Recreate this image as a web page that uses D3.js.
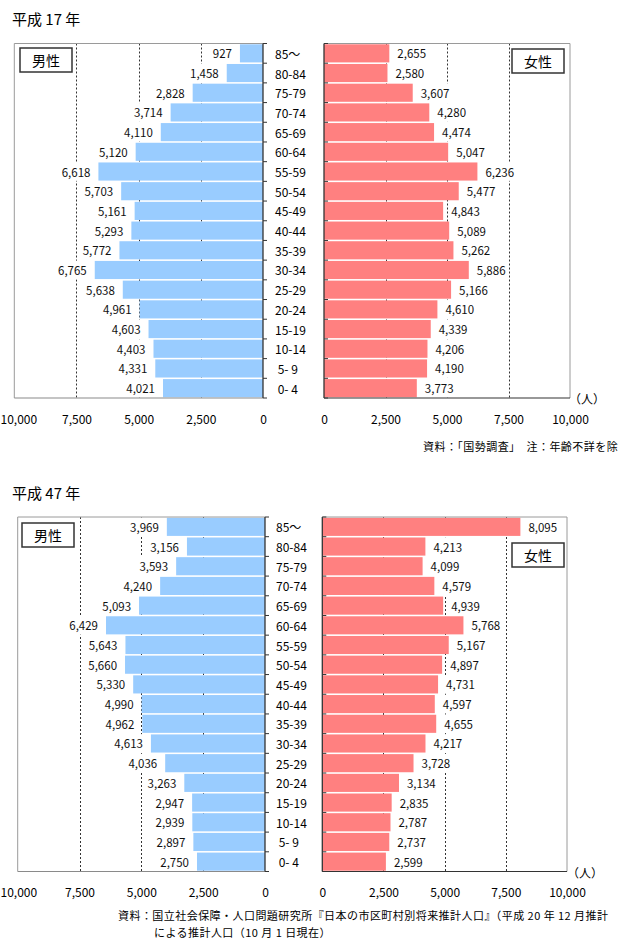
<!DOCTYPE html>
<html>
<head>
<meta charset="utf-8">
<script src="https://cdn.jsdelivr.net/npm/d3@7"></script>
<style>
  html, body { margin: 0; padding: 0; background: #ffffff; }
  svg { display: block; font-family: "Noto Sans CJK JP", "Noto Sans", sans-serif; }
  text { white-space: pre; }
</style>
</head>
<body>
<script>
// ---------------- data ----------------
const ageGroups = ["85～","80-84","75-79","70-74","65-69","60-64","55-59","50-54","45-49",
                   "40-44","35-39","30-34","25-29","20-24","15-19","10-14"," 5- 9"," 0- 4"];
const male2005   = [927,1458,2828,3714,4110,5120,6618,5703,5161,5293,5772,6765,5638,4961,4603,4403,4331,4021];
const female2005 = [2655,2580,3607,4280,4474,5047,6236,5477,4843,5089,5262,5886,5166,4610,4339,4206,4190,3773];
const male2035   = [3969,3156,3593,4240,5093,6429,5643,5660,5330,4990,4962,4613,4036,3263,2947,2939,2897,2750];
const female2035 = [8095,4213,4099,4579,4939,5768,5167,4897,4731,4597,4655,4217,3728,3134,2835,2787,2737,2599];
const xTicks = [0, 2500, 5000, 7500, 10000];
const gridValues = [2500, 5000, 7500];
const titles = ["平成 17 年", "平成 47 年"];
const maleLabel = "男性", femaleLabel = "女性", unitLabel = "（人）";
const notes2005 = ["資料：「国勢調査」　注：年齢不詳を除"];
const notes2035 = ["資料：国立社会保障・人口問題研究所『日本の市区町村別将来推計人口』（平成 20 年 12 月推計",
                   "による推計人口（10 月 1 日現在）"];

// ---------------- layout ----------------
const W = 626, H = 945;
const MALE_COLOR = "#99CCFF", FEMALE_COLOR = "#FF8080";

const panels = [
  { title: titles[0], titleY: 25, male: male2005, female: female2005,
    mLeft: 14.3, mZero: 263, fZero: 324, fRight: 570, top: 43.5, bottom: 398,
    ageX: 275, axisLabelGap: 17, unitX: 569, unitY: 398,
    notes: notes2005, noteX: [423], noteY: [446],
    maleBox: {x: 20, y: 48, w: 52, h: 24}, femaleBox: {x: 512, y: 49, w: 52, h: 24} },
  { title: titles[1], titleY: 499, male: male2035, female: female2035,
    mLeft: 17.7, mZero: 265, fZero: 322.3, fRight: 567, top: 517, bottom: 871.5,
    ageX: 276, axisLabelGap: 17, unitX: 567, unitY: 872,
    notes: notes2035, noteX: [118, 154], noteY: [915, 931.5],
    maleBox: {x: 22, y: 523, w: 52, h: 24}, femaleBox: {x: 512, y: 543, w: 52, h: 24} }
];

const svg = d3.select("body").append("svg").attr("width", W).attr("height", H);
const fmt = d3.format(",");

panels.forEach(p => {
  const g = svg.append("g");
  const xm = d3.scaleLinear().domain([0, 10000]).range([p.mZero, p.mLeft]);
  const xf = d3.scaleLinear().domain([0, 10000]).range([p.fZero, p.fRight]);
  const y = d3.scaleBand().domain(ageGroups).range([p.top, p.bottom]).paddingInner(0.08).paddingOuter(0.04);
  const step = y.step();
  const bandTop = d => y(d) - step * y.paddingInner() / 2;

  // title
  g.append("text").attr("x", 12).attr("y", p.titleY)
    .attr("font-size", 15).attr("fill", "#000").text(p.title);

  // gridlines
  [xm, xf].forEach(sc => {
    g.append("g").selectAll("line").data(gridValues).join("line")
      .attr("x1", d => Math.round(sc(d)) + 0.5).attr("x2", d => Math.round(sc(d)) + 0.5)
      .attr("y1", p.top).attr("y2", p.bottom)
      .attr("stroke", "#333").attr("stroke-width", 1).attr("stroke-dasharray", "2,2");
  });

  // bars
  g.append("g").selectAll("rect").data(ageGroups).join("rect")
    .attr("x", (d, i) => xm(p.male[i])).attr("y", d => y(d))
    .attr("width", (d, i) => xm(0) - xm(p.male[i])).attr("height", y.bandwidth())
    .attr("fill", MALE_COLOR);
  g.append("g").selectAll("rect").data(ageGroups).join("rect")
    .attr("x", xf(0)).attr("y", d => y(d))
    .attr("width", (d, i) => xf(p.female[i]) - xf(0)).attr("height", y.bandwidth())
    .attr("fill", FEMALE_COLOR);

  // value labels with white background
  function valueLabels(values, sc, side) {
    const lg = g.append("g");
    const items = lg.selectAll("g").data(ageGroups).join("g");
    items.append("rect").attr("fill", "#fff");
    const tx = items.append("text")
      .attr("font-size", 11.5).attr("fill", "#111")
      .attr("dominant-baseline", "central")
      .attr("text-anchor", side === "m" ? "end" : "start")
      .attr("x", (d, i) => side === "m" ? sc(values[i]) - 8 : sc(values[i]) + 8)
      .attr("y", d => y(d) + y.bandwidth() / 2)
      .text((d, i) => fmt(values[i]));
    tx.each(function (d, i) {
      const w = this.getComputedTextLength();
      const x0 = side === "m" ? sc(values[i]) - 8 - w : sc(values[i]) + 8;
      d3.select(this.parentNode).select("rect")
        .attr("x", x0 - 2).attr("width", w + 4)
        .attr("y", bandTop(d) + 0.5).attr("height", step - 1);
    });
  }
  valueLabels(p.male, xm, "m");
  valueLabels(p.female, xf, "f");

  // plot frame: top + outer sides (gray)
  g.append("path")
    .attr("d", `M${p.mZero},${p.top}H${p.mLeft}V${p.bottom}`)
    .attr("fill", "none").attr("stroke", "#9a9a9a").attr("stroke-width", 1);
  g.append("path")
    .attr("d", `M${p.fZero},${p.top}H${p.fRight}V${p.bottom}`)
    .attr("fill", "none").attr("stroke", "#9a9a9a").attr("stroke-width", 1);

  // axis lines
  g.append("line").attr("x1", p.mLeft).attr("x2", p.mZero).attr("y1", p.bottom).attr("y2", p.bottom)
    .attr("stroke", "#8a8a8a").attr("stroke-width", 1.2);
  g.append("line").attr("x1", p.fZero).attr("x2", p.fRight).attr("y1", p.bottom).attr("y2", p.bottom)
    .attr("stroke", "#333").attr("stroke-width", 1.2);
  g.append("line").attr("x1", p.mZero).attr("x2", p.mZero).attr("y1", p.top).attr("y2", p.bottom)
    .attr("stroke", "#333").attr("stroke-width", 1.3);
  g.append("line").attr("x1", p.fZero).attr("x2", p.fZero).attr("y1", p.top).attr("y2", p.bottom)
    .attr("stroke", "#333").attr("stroke-width", 1.3);

  // category ticks at band boundaries
  const boundaries = ageGroups.map(bandTop).concat([p.bottom]);
  [p.mZero, p.fZero].forEach(x0 => {
    g.append("g").selectAll("line").data(boundaries).join("line")
      .attr("x1", x0).attr("x2", x0 + 4)
      .attr("y1", d => d).attr("y2", d => d)
      .attr("stroke", "#333").attr("stroke-width", 1);
  });

  // age labels
  g.append("g").selectAll("text").data(ageGroups).join("text")
    .attr("x", p.ageX).attr("y", d => y(d) + y.bandwidth() / 2)
    .attr("dominant-baseline", "central")
    .attr("font-size", 12).attr("fill", "#000")
    .text(d => d);

  // x axes
  [xm, xf].forEach(sc => {
    const ax = g.append("g").attr("transform", `translate(0,${p.bottom})`)
      .call(d3.axisBottom(sc).tickValues(xTicks).tickFormat(fmt).tickSize(0).tickPadding(p.axisLabelGap));
    ax.select(".domain").remove();
    ax.selectAll("text").attr("font-size", 12).attr("fill", "#000")
      .attr("font-family", "Noto Sans CJK JP, sans-serif");
    // keep labels inside the canvas
    ax.selectAll(".tick").each(function () {
      const t = d3.select(this);
      const txt = t.select("text").node();
      const bb = txt.getBBox();
      const m = t.attr("transform").match(/translate\(([-\d.]+)/);
      const tx = m ? +m[1] : 0;
      if (tx + bb.x < 0.5) d3.select(txt).attr("x", 0.5 - (tx + bb.x));
    });
  });

  // unit
  g.append("text").attr("x", p.unitX).attr("y", p.unitY)
    .attr("dominant-baseline", "central").attr("font-size", 12).attr("fill", "#000")
    .text(unitLabel);

  // legend boxes
  [[p.maleBox, maleLabel], [p.femaleBox, femaleLabel]].forEach(([b, label]) => {
    g.append("rect").attr("x", b.x).attr("y", b.y).attr("width", b.w).attr("height", b.h)
      .attr("fill", "#fff").attr("stroke", "#333").attr("stroke-width", 1.5);
    g.append("text").attr("x", b.x + b.w / 2).attr("y", b.y + b.h / 2)
      .attr("text-anchor", "middle").attr("dominant-baseline", "central")
      .attr("font-size", 14).attr("fill", "#000").text(label);
  });

  // notes
  g.append("g").selectAll("text").data(p.notes).join("text")
    .attr("x", (d, i) => p.noteX[i]).attr("y", (d, i) => p.noteY[i])
    .attr("dominant-baseline", "central").attr("font-size", 11).attr("letter-spacing", 0.45)
    .attr("fill", "#000")
    .text(d => d);
});
</script>
</body>
</html>
